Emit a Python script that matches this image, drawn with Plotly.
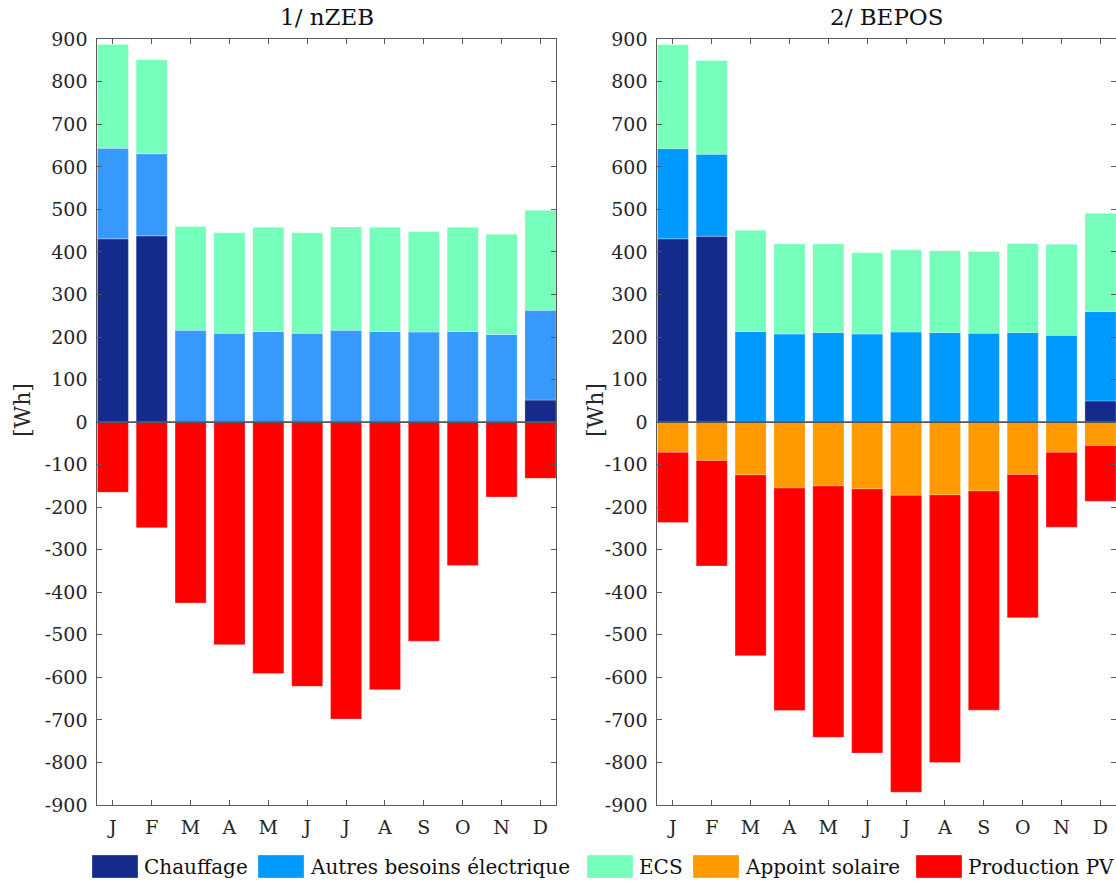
import plotly.graph_objects as go

# ---------------- data ----------------
months = ["J", "F", "M", "A", "M", "J", "J", "A", "S", "O", "N", "D"]
month_pos = list(range(1, 13))
yticks = list(range(-900, 901, 100))

series_names = ["Chauffage", "Autres besoins électrique", "ECS", "Appoint solaire", "Production PV"]
panel_titles = ["1/ nZEB", "2/ BEPOS"]

# Panel 1 : nZEB  [Wh]
chauffage_1 = [431, 438, 0, 0, 0, 0, 0, 0, 0, 0, 0, 52]
autres_1 = [213, 193, 216, 209, 213, 209, 216, 213, 212, 213, 206, 211]
ecs_1 = [244, 221, 244, 236, 245, 236, 243, 245, 236, 245, 236, 235]
pv_1 = [-165, -248, -425, -523, -591, -621, -698, -629, -515, -337, -176, -132]

# Panel 2 : BEPOS  [Wh]
chauffage_2 = [431, 437, 0, 0, 0, 0, 0, 0, 0, 0, 0, 50]
autres_2 = [212, 193, 213, 207, 211, 207, 212, 211, 209, 211, 204, 210]
ecs_2 = [244, 220, 238, 212, 208, 191, 193, 192, 192, 209, 214, 231]
appoint_2 = [-71, -90, -124, -155, -150, -157, -172, -171, -162, -123, -71, -55]
pv_2 = [-165, -248, -425, -523, -591, -621, -698, -629, -515, -337, -176, -131]

# ---------------- style ----------------
FONT = "DejaVu Serif"
C_CHAUF = "#142b8c"
C_AUTRES_1 = "#3899fd"
C_AUTRES_2 = "#0099ff"
C_ECS = "#75ffbb"
C_APP = "#ff9a00"
C_PV = "#ff0000"
AX = "#5a5a5a"
TXT = "#262626"

W, H = 1116, 882
fig = go.Figure()

def add_bar(x, y, color, name, xa, ya):
    fig.add_trace(go.Bar(
        x=x, y=y, name=name, marker_color=color,
        marker_line=dict(color="rgba(255,255,255,0.45)", width=0.6),
        xaxis=xa, yaxis=ya, showlegend=False,
    ))

add_bar(month_pos, chauffage_1, C_CHAUF, series_names[0], "x", "y")
add_bar(month_pos, autres_1, C_AUTRES_1, series_names[1], "x", "y")
add_bar(month_pos, ecs_1, C_ECS, series_names[2], "x", "y")
add_bar(month_pos, pv_1, C_PV, series_names[4], "x", "y")

add_bar(month_pos, chauffage_2, C_CHAUF, series_names[0], "x2", "y2")
add_bar(month_pos, autres_2, C_AUTRES_2, series_names[1], "x2", "y2")
add_bar(month_pos, ecs_2, C_ECS, series_names[2], "x2", "y2")
add_bar(month_pos, appoint_2, C_APP, series_names[3], "x2", "y2")
add_bar(month_pos, pv_2, C_PV, series_names[4], "x2", "y2")

# pixel geometry -> paper fractions
def px(v):
    return v / W

def py(v):
    return 1 - v / H

ydom = [py(805), py(39.3)]
xdom1 = [px(97.3), px(556)]
xdom2 = [px(657.3), 1.0]

common_x = dict(
    range=[0.6, 12.4], tickmode="array", tickvals=month_pos, ticktext=months,
    ticks="inside", ticklen=5, tickcolor=AX, showline=True, linecolor=AX,
    linewidth=1, mirror="ticks", showgrid=False, zeroline=False, automargin=False,
    tickfont=dict(family=FONT, size=19, color=TXT), ticklabelstandoff=5,
)
common_y = dict(
    range=[-900, 900], tickmode="array", tickvals=yticks,
    ticktext=[str(v) for v in yticks],
    ticks="inside", ticklen=5, tickcolor=AX, showline=True, linecolor=AX,
    linewidth=1, mirror="ticks", showgrid=False, zeroline=False, automargin=False,
    tickfont=dict(family=FONT, size=19, color=TXT), ticklabelstandoff=5,
)

fig.update_layout(
    width=W, height=H, autosize=False,
    margin=dict(l=0, r=0, t=0, b=0, pad=0, autoexpand=False),
    paper_bgcolor="white", plot_bgcolor="white",
    barmode="relative", bargap=0.2,
    showlegend=False,
    xaxis=dict(domain=xdom1, anchor="y", **common_x),
    yaxis=dict(domain=ydom, anchor="x", **common_y),
    xaxis2=dict(domain=xdom2, anchor="y2", **common_x),
    yaxis2=dict(domain=ydom, anchor="x2", **common_y),
)

shapes = []
annotations = []

# zero baselines
for xr, yr in [("x domain", "y"), ("x2 domain", "y2")]:
    shapes.append(dict(type="line", xref=xr, yref=yr, x0=0, x1=1, y0=0, y1=0,
                       line=dict(color="#555555", width=1.6), layer="above"))

# panel titles
title_centers = [px((97.3 + 556) / 2), px((657.3 + 1116) / 2)]
for title, center in zip(panel_titles, title_centers):
    annotations.append(dict(text=title, xref="paper", yref="paper",
                            x=center, y=py(17), xanchor="center", yanchor="middle",
                            showarrow=False, font=dict(family=FONT, size=23, color="#111111")))

# y axis labels
for xc in [22, 595]:
    annotations.append(dict(text="[Wh]", xref="paper", yref="paper",
                            x=px(xc), y=py(410), xanchor="center", yanchor="middle",
                            textangle=-90, showarrow=False,
                            font=dict(family=FONT, size=22, color=TXT)))

# legend (bottom, horizontal)
legend_colors = [C_CHAUF, C_AUTRES_2, C_ECS, C_APP, C_PV]
legend_rect_x = [92, 258, 587, 693, 916]
for name, col, x0 in zip(series_names, legend_colors, legend_rect_x):
    shapes.append(dict(type="rect", xref="paper", yref="paper",
                       x0=px(x0), x1=px(x0 + 46), y0=py(878), y1=py(855),
                       fillcolor=col, line=dict(color="rgba(255,255,255,0.5)", width=0.6)))
    annotations.append(dict(text=name, xref="paper", yref="paper",
                            x=px(x0 + 50), y=py(866.5), xanchor="left", yanchor="middle",
                            showarrow=False, font=dict(family=FONT, size=20, color="#111111")))

fig.update_layout(shapes=shapes, annotations=annotations)

fig.write_html(
    "out.html",
    config={"displayModeBar": False},
    post_script="document.body.style.margin='0';document.body.style.overflow='hidden';",
)
